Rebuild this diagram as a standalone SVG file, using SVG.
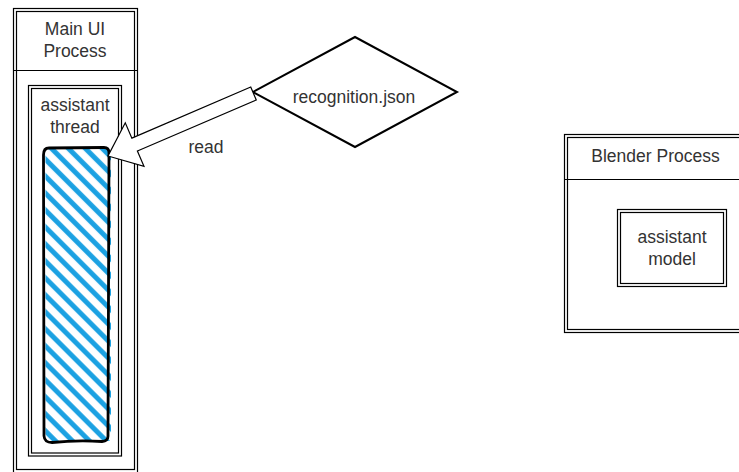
<svg xmlns="http://www.w3.org/2000/svg" width="739" height="472" viewBox="0 0 739 472">
  <style>
    .frame { fill: none; stroke: #000; stroke-width: 1.2; }
    .sep { stroke: #000; stroke-width: 1.2; }
    .label { font-family: "Liberation Sans", Arial, sans-serif; font-size: 17.5px; fill: #333; text-anchor: middle; }
  </style>
  <defs>
    <pattern id="hatch" patternUnits="userSpaceOnUse" width="12" height="12" patternTransform="rotate(45)">
      <line x1="-2" y1="8.6" x2="14" y2="8.6" stroke="#1ba1e2" stroke-width="5"/>
    </pattern>
  </defs>

  <rect width="739" height="472" fill="#fff"/>

  <!-- Main UI process lane -->
  <g id="main-ui-process">
    <rect x="13.5" y="8.5" width="124" height="466" class="frame"/>
    <rect x="16.5" y="11.5" width="118" height="458" class="frame"/>
    <line x1="13.5" y1="70.5" x2="137.5" y2="70.5" class="sep"/>
    <text class="label" x="75" y="35">Main UI</text>
    <text class="label" x="75" y="57">Process</text>
  </g>

  <!-- assistant thread container -->
  <g id="assistant-thread">
    <rect x="28.5" y="85.5" width="93" height="370.5" class="frame"/>
    <rect x="31.5" y="88.5" width="87" height="364.5" class="frame"/>
    <text class="label" x="75" y="111">assistant</text>
    <text class="label" x="75" y="133">thread</text>
  </g>

  <!-- hatched work block inside the thread -->
  <g id="thread-work">
    <rect x="45.5" y="149" width="65.5" height="292" fill="url(#hatch)"/>
    <path d="M49,148 L104,147.5 Q109,147.5 109,153 L108,436 Q108,441 102,441.5 Q76,440 52,442.5 Q44.5,442.5 44,436 L43.5,155 Q43.5,148 49,148 Z" fill="none" stroke="#000" stroke-width="2.8" stroke-linejoin="round"/>
  </g>

  <!-- recognition.json data node -->
  <g id="recognition-json">
    <polygon points="355,37 457,92 355,147 253,92" fill="#fff" stroke="#000" stroke-width="2"/>
    <text class="label" x="354" y="102.5">recognition.json</text>
  </g>

  <!-- Blender process lane -->
  <g id="blender-process">
    <rect x="564.5" y="134.5" width="190" height="198" class="frame"/>
    <rect x="567.5" y="137.5" width="184" height="192" class="frame"/>
    <line x1="564.5" y1="179.5" x2="745" y2="179.5" class="sep"/>
    <text class="label" x="655.5" y="161.5">Blender Process</text>
  </g>

  <!-- assistant model -->
  <g id="assistant-model">
    <rect x="617.5" y="209.5" width="109" height="77" class="frame"/>
    <rect x="620.5" y="212.5" width="103" height="71" class="frame"/>
    <text class="label" x="672" y="243">assistant</text>
    <text class="label" x="672" y="265">model</text>
  </g>

  <!-- connectors -->
  <g id="connectors">
    <polygon points="250.74,87.07 131.87,138.13 125.28,122.79 108,156 143.98,166.33 137.39,150.99 256.26,99.93" fill="#fff" stroke="#000" stroke-width="1.2" stroke-linejoin="miter"/>
    <text class="label" x="206" y="153">read</text>
  </g>
</svg>
